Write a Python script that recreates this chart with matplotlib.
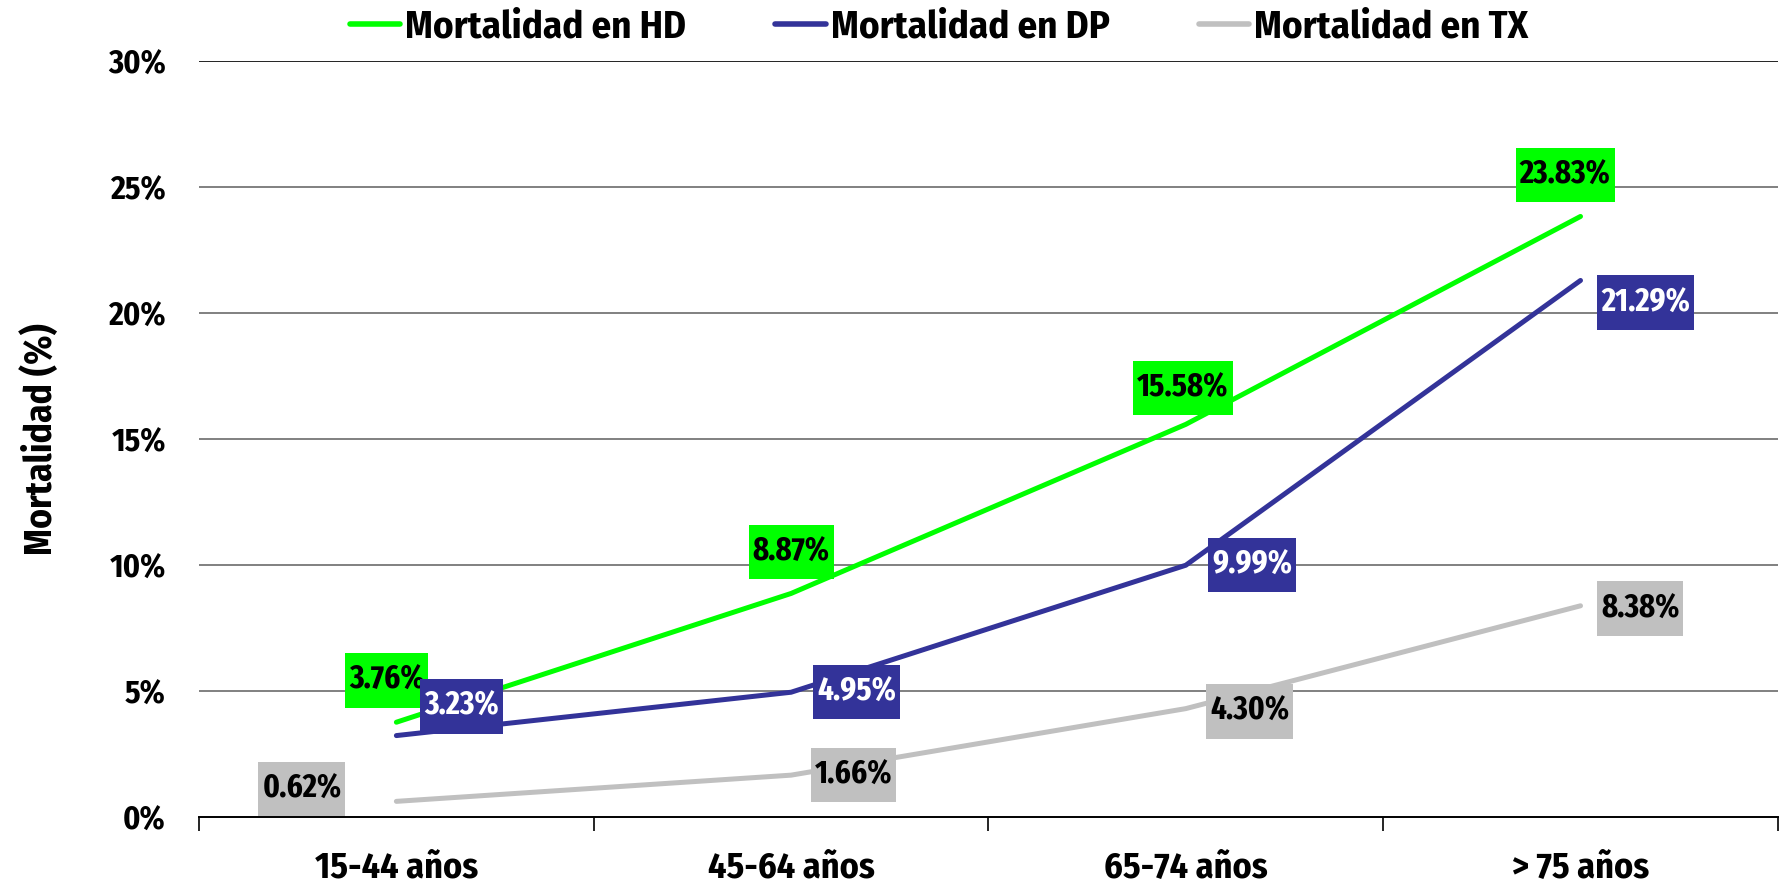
import matplotlib
matplotlib.use("Agg")
import matplotlib.pyplot as plt
from matplotlib.lines import Line2D
from matplotlib.path import Path
from matplotlib import font_manager as fm

categories = ["15-44 años", "45-64 años", "65-74 años", "> 75 años"]
hd = [3.76, 8.87, 15.58, 23.83]
dp = [3.23, 4.95, 9.99, 21.29]
tx = [0.62, 1.66, 4.30, 8.38]
series_names = ["Mortalidad en HD", "Mortalidad en DP", "Mortalidad en TX"]
yticks = [0, 5, 10, 15, 20, 25, 30]

colors = ["#00FF00", "#333399", "#C0C0C0"]
text_colors = ["black", "white", "black"]
offsets = [
    [(-7, 30), (0, 30), (-2, 26), (-11, 30)],
    [(47, 21), (47, 0), (48, 0), (47, -16)],
    [(-68, 9), (45, 0), (46, -2), (43, -2)],
]

FONT = ["Fira Sans Condensed", "DejaVu Sans"]
LFONT = ["Fira Sans Extra Condensed", "Fira Sans Condensed", "DejaVu Sans"]
plt.rcParams["font.family"] = FONT
plt.rcParams["font.weight"] = "bold"


def label_box(x0, y0, width, height, mutation_size):
    px = 0.12 * mutation_size
    py = 0.34 * mutation_size
    xa, ya = x0 - px, y0 - py
    xb, yb = x0 + width + px, y0 + height + py
    return Path([(xa, ya), (xb, ya), (xb, yb), (xa, yb), (xa, ya)],
                [Path.MOVETO, Path.LINETO, Path.LINETO, Path.LINETO, Path.CLOSEPOLY])


fig = plt.figure(figsize=(17.85, 8.86), dpi=100)
ax = fig.add_axes([0.1115, 0.0779, 0.8845, 0.8533])

x = list(range(len(categories)))
for yt in yticks[1:]:
    ax.axhline(yt, color="#222222" if yt == 30 else "#808080", lw=1.4, zorder=1)

data = [hd, dp, tx]
z = 3
for i, s in enumerate(data):
    ax.plot(x, s, color=colors[i], lw=3.6, solid_capstyle="round", zorder=z)
    for j, v in enumerate(s):
        ax.annotate(f"{v:.2f}%", (x[j], v), xytext=offsets[i][j], textcoords="offset points",
                    ha="center", va="center", fontsize=24, fontweight="bold", family=LFONT,
                    color=text_colors[i], zorder=z + 1,
                    bbox=dict(boxstyle=label_box, fc=colors[i], ec="none"))
    z += 2

ax.set_xlim(-0.5, 3.5)
ax.set_ylim(0, 30)
ax.set_yticks(yticks)
ax.set_yticklabels([f"{t}%" for t in yticks], fontsize=23, fontweight="bold")
ax.set_xticks(x)
ax.set_xticklabels(categories, fontsize=26, fontweight="bold")
ax.set_xticks([-0.5, 0.5, 1.5, 2.5, 3.5], minor=True)
ax.tick_params(axis="x", which="major", length=0, pad=24)
ax.tick_params(axis="x", which="minor", length=10, width=1.2, color="black")
ax.tick_params(axis="y", length=0, pad=24)
for sp in ["top", "right", "left"]:
    ax.spines[sp].set_visible(False)
ax.spines["bottom"].set_linewidth(1.4)
ax.set_ylabel("Mortalidad (%)", fontsize=27, fontweight="bold", labelpad=34)

handles = [Line2D([0], [0], color=c, lw=4, solid_capstyle="round") for c in colors]
fig.legend(handles, series_names, loc="upper center", bbox_to_anchor=(0.526, 1.03), ncol=3,
           frameon=False, handlelength=1.3, handletextpad=0.12, columnspacing=2.3,
           prop=fm.FontProperties(family=FONT, size=28, weight="bold"))

fig.savefig("out.png", dpi=100)
